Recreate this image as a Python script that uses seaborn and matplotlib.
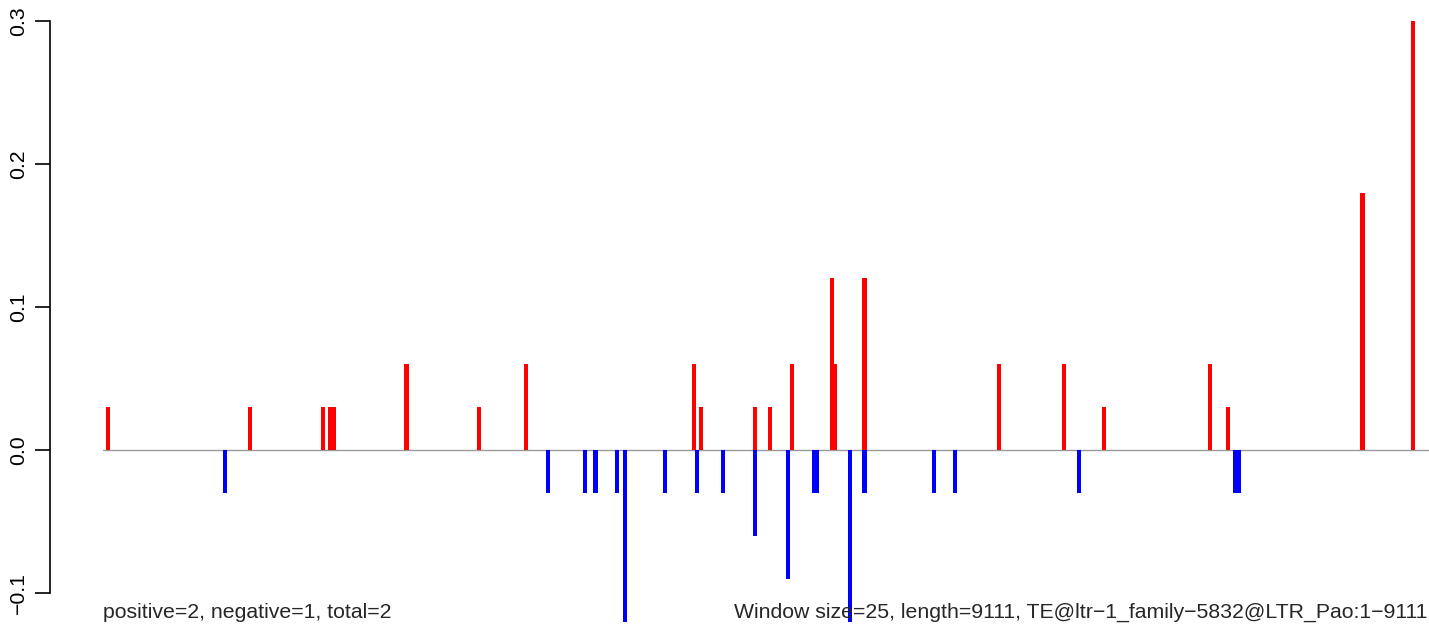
import numpy as np
import pandas as pd
import matplotlib
matplotlib.use("Agg")
import matplotlib.pyplot as plt
import seaborn as sns

# window start positions (bp) and scores
WINDOW = 25
LENGTH = 9111
pos_starts = [25, 1000, 1500, 1550, 1575, 2075, 2575, 2900, 4050, 4100, 4475,
              4575, 4725, 5000, 5025, 5225, 6150, 6600, 6875, 7600, 7725, 8650, 9000]
pos_values = [0.03, 0.03, 0.03, 0.03, 0.03, 0.06, 0.03, 0.06, 0.06, 0.03, 0.03,
              0.03, 0.06, 0.12, 0.06, 0.12, 0.06, 0.06, 0.03, 0.06, 0.03, 0.18, 0.30]
neg_starts = [825, 3050, 3300, 3375, 3525, 3575, 3850, 4075, 4250, 4475, 4700,
              4875, 4900, 5125, 5225, 5700, 5850, 6700, 7775, 7800]
neg_values = [-0.03, -0.03, -0.03, -0.03, -0.03, -0.12, -0.03, -0.03, -0.03, -0.06, -0.09,
              -0.03, -0.03, -0.12, -0.03, -0.03, -0.03, -0.03, -0.03, -0.03]
y_ticks = [-0.1, 0.0, 0.1, 0.2, 0.3]

left_note = "positive=2, negative=1, total=2"
right_note = ("Window size=25, length=9111, "
              "TE@ltr\u22121_family\u22125832@LTR_Pao:1\u22129111")


def build_frame():
    pos = pd.DataFrame({"start": pos_starts, "score": pos_values, "strand": "pos"})
    neg = pd.DataFrame({"start": neg_starts, "score": neg_values, "strand": "neg"})
    df = pd.concat([pos, neg], ignore_index=True)
    df["center"] = df["start"] + WINDOW / 2
    return df


def plot_windows(df):
    sns.set_style("white")
    plt.rcParams["font.family"] = ["Liberation Sans", "DejaVu Sans"]

    fig = plt.figure(figsize=(14.29, 6.27), dpi=100)
    ax = fig.add_axes([0, 0, 1, 1])

    # grey baseline from position 0 to the end
    ax.plot([0, LENGTH + 200], [0, 0], color="#9a9a9a", lw=1.0, zorder=1)

    sns.barplot(data=df, x="center", y="score", hue="strand",
                palette={"pos": "#ff0000", "neg": "#0000ff"},
                native_scale=True, dodge=False, width=1.12, saturation=1,
                errorbar=None, linewidth=0, legend=False, ax=ax, zorder=2)

    ax.set_xlim(-708, 9120)
    ax.set_ylim(-0.1238, 0.3147)
    ax.set_xlabel("")
    ax.set_ylabel("")

    for side in ["top", "right", "bottom"]:
        ax.spines[side].set_visible(False)
    ax.spines["left"].set_position(("data", -364))
    ax.spines["left"].set_bounds(-0.1, 0.3)
    ax.spines["left"].set_linewidth(1.2)
    ax.spines["left"].set_color("black")

    ax.set_xticks([])
    ax.set_yticks(y_ticks)
    ax.set_yticklabels([f"{v:.1f}".replace("-", "\u2212") for v in y_ticks])
    ax.tick_params(axis="y", left=True, direction="out", length=11, width=1.2,
                   labelsize=15.3, pad=5, labelrotation=90, colors="black")
    for lab in ax.get_yticklabels():
        lab.set_verticalalignment("center")

    ax.text(0, 0.015, left_note, transform=ax.get_xaxis_transform(),
            ha="left", va="baseline", fontsize=15.3)
    ax.text(LENGTH, 0.015, right_note, transform=ax.get_xaxis_transform(),
            ha="right", va="baseline", fontsize=15.3)

    fig.savefig("out.png", dpi=100)
    plt.close(fig)


if __name__ == "__main__":
    plot_windows(build_frame())
